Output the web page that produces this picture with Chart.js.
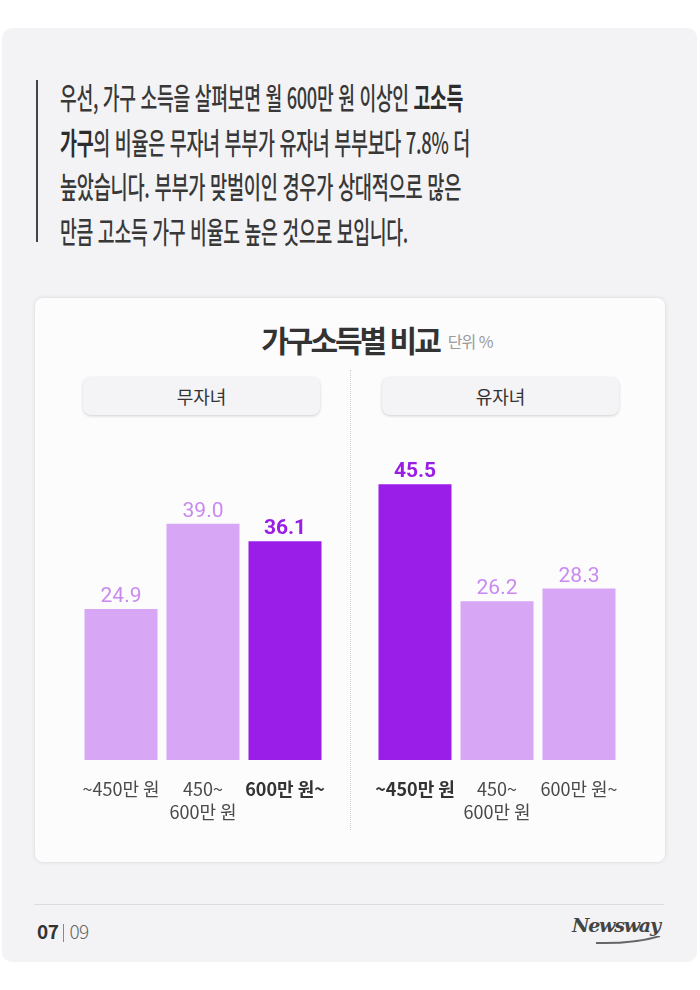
<!DOCTYPE html>
<html lang="ko">
<head>
<meta charset="utf-8">
<script src="https://cdn.jsdelivr.net/npm/chart.js@4"></script>
<style>
    html, body { margin: 0; padding: 0; background: #fff; }
    body { width: 700px; height: 990px; position: relative; overflow: hidden; font-family: 'Noto Sans CJK KR', 'Noto Sans', sans-serif; color: #333; }
    .page { position: absolute; left: 2px; top: 28px; width: 695px; height: 934px; background: #f3f3f5; border-radius: 10px; }
    .quote-bar { position: absolute; left: 36px; top: 80px; width: 2px; height: 162px; background: #444; }
    .body-text { position: absolute; left: 60px; top: 74px; font-size: 30px; font-weight: 500; line-height: 44.5px; color: #383838; letter-spacing: -0.5px; }
    .body-text .line { display: block; white-space: nowrap; transform-origin: left center; width: max-content; }
    .body-text b { font-weight: 700; color: #2c2c2c; }
    .card { position: absolute; left: 35px; top: 298px; width: 630px; height: 564px; background: #fcfcfd; border-radius: 8px; box-shadow: 0 0 4px rgba(0,0,0,0.12); }
    .title { position: absolute; left: 0; top: 317px; width: 700px; text-align: center; white-space: nowrap; }
    .title .main { position: relative; display: inline-block; font-size: 30px; font-weight: 700; color: #333; letter-spacing: -3px; }
    .title .unit { position: absolute; left: 100%; top: 12px; margin-left: 9px; font-size: 16px; font-weight: 400; color: #9a9a9a; letter-spacing: -1px; }
    .pill { position: absolute; top: 377px; width: 237px; height: 38px; background: #f4f4f6; border-radius: 8px; box-shadow: 0 1px 3px rgba(0,0,0,0.18); font-size: 18px; line-height: 38px; text-align: center; color: #333; }
    .divider { position: absolute; left: 350px; top: 370px; height: 460px; border-left: 1px dotted #cfcfd4; }
    .chart-box { position: absolute; top: 440px; width: 246px; height: 400px; }
    .footer-line { position: absolute; left: 34px; top: 904px; width: 630px; height: 1px; background: #dcdce0; }
    .page-no { position: absolute; left: 37px; top: 917px; font-size: 19px; color: #444; letter-spacing: -0.5px; }
    .page-no b { font-weight: 700; color: #333; }
    .page-no .sep { display: inline-block; width: 1px; height: 18px; background: #888; margin: 0 5px -3px 5px; }
    .page-no .total { color: #666; font-weight: 300; }
    .logo { position: absolute; left: 572px; top: 914px; font-family: 'DejaVu Serif', serif; font-style: italic; font-weight: 700; font-size: 19px; color: #444; letter-spacing: -1.2px; }
    .logo svg { position: absolute; left: 22px; top: 22px; }
</style>
</head>
<body>
<div class="page"></div>
<div class="quote-bar"></div>
<div class="body-text">
    <span class="line" data-w="403">우선, 가구 소득을 살펴보면 월 600만 원 이상인 <b>고소득</b></span>
    <span class="line" data-w="410"><b>가구</b>의 비율은 무자녀 부부가 유자녀 부부보다 7.8% 더</span>
    <span class="line" data-w="401">높았습니다. 부부가 맞벌이인 경우가 상대적으로 많은</span>
    <span class="line" data-w="348">만큼 고소득 가구 비율도 높은 것으로 보입니다.</span>
</div>

<div class="card"></div>
<div class="title"><span class="main">가구소득별 비교<span class="unit">단위 %</span></span></div>
<div class="pill" style="left:83px;">무자녀</div>
<div class="pill" style="left:382px;">유자녀</div>
<div class="divider"></div>

<div class="chart-box" style="left:80px;"><canvas id="chartNoKids"></canvas></div>
<div class="chart-box" style="left:374px;"><canvas id="chartWithKids"></canvas></div>

<div class="footer-line"></div>
<div class="page-no"><b>07</b><span class="sep"></span><span class="total">09</span></div>
<div class="logo">Newsway<svg width="70" height="10"><path d="M2 7 Q40 8 66 0" stroke="#666" stroke-width="2" fill="none"/></svg></div>

<script>
const categories = [['~450만 원'], ['450~', '600만 원'], ['600만 원~']];
const noKidsValues = [24.9, 39.0, 36.1];
const withKidsValues = [45.5, 26.2, 28.3];
const noKidsHighlight = 2;
const withKidsHighlight = 0;

const LIGHT_BAR = '#d7a6f5';
const LIGHT_TEXT = '#c98af0';
const DARK_BAR = '#9b1ee8';
const DARK_TEXT = '#9a1de6';
const FONT = "'Noto Sans CJK KR', 'Noto Sans', sans-serif";

document.querySelectorAll('.body-text .line').forEach(line => {
    const target = parseFloat(line.dataset.w);
    const natural = line.getBoundingClientRect().width;
    line.style.transform = 'scaleX(' + (target / natural) + ')';
});

const valueLabels = {
    id: 'valueLabels',
    afterDatasetsDraw(chart) {
        const ctx = chart.ctx;
        const hi = chart.options.plugins.valueLabels.highlight;
        chart.getDatasetMeta(0).data.forEach((bar, i) => {
            const v = chart.data.datasets[0].data[i];
            ctx.save();
            ctx.textAlign = 'center';
            ctx.textBaseline = 'alphabetic';
            ctx.fillStyle = i === hi ? DARK_TEXT : LIGHT_TEXT;
            ctx.font = (i === hi ? '700 ' : '400 ') + '21px Roboto, "Noto Sans", sans-serif';
            ctx.fillText(v.toFixed(1), bar.x, bar.y - 7);
            ctx.restore();
        });
    }
};

function makeChart(id, values, highlight) {
    const ctx = document.getElementById(id).getContext('2d');
    return new Chart(ctx, {
        type: 'bar',
        data: {
            labels: categories,
            datasets: [{
                data: values,
                backgroundColor: values.map((v, i) => i === highlight ? DARK_BAR : LIGHT_BAR),
                borderWidth: 0,
                barPercentage: 0.89,
                categoryPercentage: 1.0
            }]
        },
        options: {
            responsive: true,
            maintainAspectRatio: false,
            animation: false,
            layout: { padding: { top: 17, left: 0, right: 0, bottom: 0 } },
            plugins: {
                legend: { display: false },
                tooltip: { enabled: false },
                valueLabels: { highlight: highlight }
            },
            scales: {
                x: {
                    grid: { display: false },
                    border: { display: false },
                    afterFit: scale => {
                        // keep the bars filling the whole width; labels may overhang
                        scale.height = 80;
                        scale.paddingLeft = 0;
                        scale.paddingRight = 0;
                    },
                    ticks: {
                        autoSkip: false,
                        maxRotation: 0,
                        padding: 9,
                        color: c => c.index === highlight ? '#333333' : '#4a4a4a',
                        font: c => ({
                            family: FONT,
                            size: 18,
                            weight: c.index === highlight ? '700' : '400',
                            lineHeight: 1.3
                        })
                    }
                },
                y: {
                    display: false,
                    min: 0,
                    max: 50
                }
            }
        },
        plugins: [valueLabels]
    });
}

makeChart('chartNoKids', noKidsValues, noKidsHighlight);
makeChart('chartWithKids', withKidsValues, withKidsHighlight);
</script>
</body>
</html>
